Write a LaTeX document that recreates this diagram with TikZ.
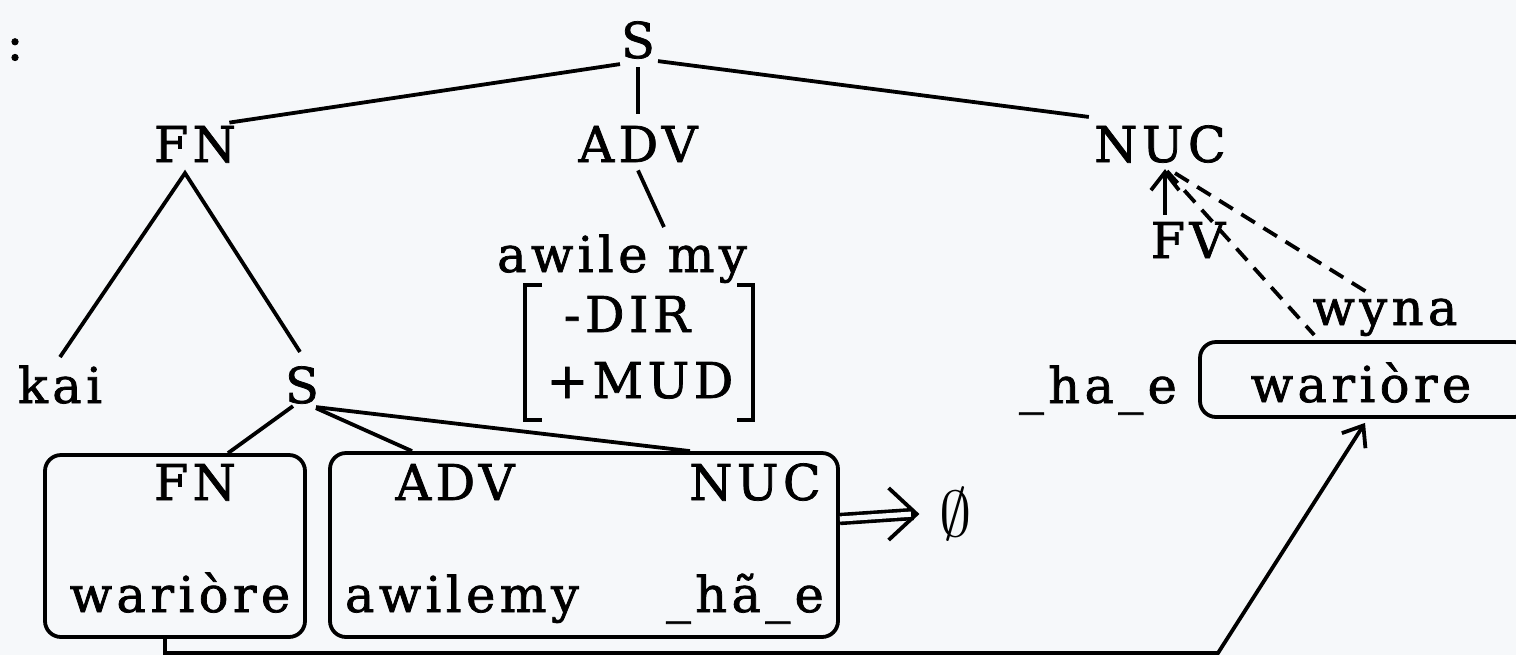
\documentclass[tikz,border=0pt]{standalone}
\usepackage{fontspec}
\setmainfont{DejaVu Serif}[LetterSpace=9,FakeBold=1.5]
\usetikzlibrary{arrows.meta,calc}
\definecolor{paper}{RGB}{246,248,250}
\tikzset{
 txt/.style={inner sep=0pt, anchor=base, font=\fontsize{24.7pt}{30pt}\selectfont},
 ln/.style={line width=1.9pt},
 dsh/.style={line width=1.9pt, dash pattern=on 8pt off 5pt},
 box/.style={draw, line width=1.9pt, rounded corners=8pt, inner sep=0pt},
 tip/.style={-{Straight Barb[length=9pt,width=14pt]}}
}
\begin{document}
\begin{tikzpicture}[x=0.5pt,y=-0.5pt]
\useasboundingbox (0,0) rectangle (1516,655);
\fill[paper] (0,0) rectangle (1516,655);
% text nodes
\node[txt] (colon) at (15,60) {:};
\node[txt] (S1) at (638,58) {S};
\node[txt] (FN1) at (195,162) {FN};
\node[txt] (ADV1) at (638,162) {ADV};
\node[txt] (NUC1) at (1160,162) {NUC};
\node[txt] (awile) at (622,272) {awile my};
\node[txt] (DIR) at (627,332) {-DIR};
\node[txt] (MUD) at (640,398) {+MUD};
\node[txt] (FV) at (1188,258) {FV};
\node[txt] (wyna) at (1385,325) {wyna};
\node[txt] (hae) at (1098,403) {\_ha\_e};
\node[box, minimum width=165pt, minimum height=37.5pt] (wbox) at (1365,379.5) {};
\node[txt] (war2) at (1361,402) {wariòre};
\node[txt] (kai) at (60,403) {kai};
\node[txt] (S2) at (302,403) {S};
\node[box, minimum width=130pt, minimum height=91pt] (box1) at (175,546) {};
\node[box, minimum width=254pt, minimum height=92pt] (box2) at (584,545) {};
\node[txt] (FN2) at (195,500) {FN};
\node[txt] (war1) at (180,612) {wariòre};
\node[txt] (ADV2) at (455,500) {ADV};
\node[txt] (NUC2) at (755,500) {NUC};
\node[txt] (awilemy) at (462,612) {awilemy};
\node[txt] (hae2) at (745,612) {\_h\~a\_e};
\node[inner sep=0pt, font=\fontsize{24.7pt}{30pt}\selectfont] (empty) at (956,514) {\scalebox{1.3}{$\emptyset$}};
% brackets
\draw[ln] (542,285) -| (525,420) -- (542,420);
\draw[ln] (737,285) -| (753,420) -- (737,420);
% tree lines
\draw[ln] ([shift={(-18,5)}]S1.south) -- ([shift={(-7,-3)}]FN1.north east);
\draw[ln] ([shift={(20,2)}]S1.south) -- ([shift={(-5,-8)}]NUC1.north west);
\draw[ln] ([shift={(0,8)}]S1.south) -- ([shift={(0,-12)}]ADV1.north);
\draw[ln, line join=miter] ([shift={(0,-8)}]kai.north) -- ([shift={(-10,10)}]FN1.south) -- ([shift={(-2,-14)}]S2.north);
\draw[ln] ([shift={(0,8)}]ADV1.south) -- ([shift={(42,-7)}]awile.north);
\draw[ln, tip] ([shift={(-23,-7)}]FV.north) -- ([shift={(5,6)}]NUC1.south);
\draw[dsh] ([shift={(7,8)}]NUC1.south) -- ([shift={(2,10)}]wyna.base west);
\draw[dsh] ([shift={(15,10)}]NUC1.south) -- ([shift={(-13,-3)}]wyna.north);
\draw[ln] ([shift={(-9,2)}]S2.south) -- ([xshift=26.5pt]box1.north);
\draw[ln] ([shift={(14,4)}]S2.south) -- ([xshift=-86pt]box2.north);
\draw[ln] ([shift={(14,3)}]S2.south) -- ([xshift=53pt]box2.north);
% rule arrow
\coordinate (rtip) at ([xshift=-10pt]empty.west);
\draw[line width=1.8pt, double=paper, double distance=2.6pt] ([yshift=13pt]box2.east) -- ([xshift=-3pt]rtip);
\draw[ln, -{Straight Barb[length=14pt,width=26pt]}] ([xshift=-4pt]rtip) -- (rtip);
% movement arrow
\coordinate (bend) at (1218,653);
\draw[ln, tip] ([xshift=-5pt]box1.south) |- (bend) -- ([yshift=-2pt]wbox.south);
\end{tikzpicture}
\end{document}
